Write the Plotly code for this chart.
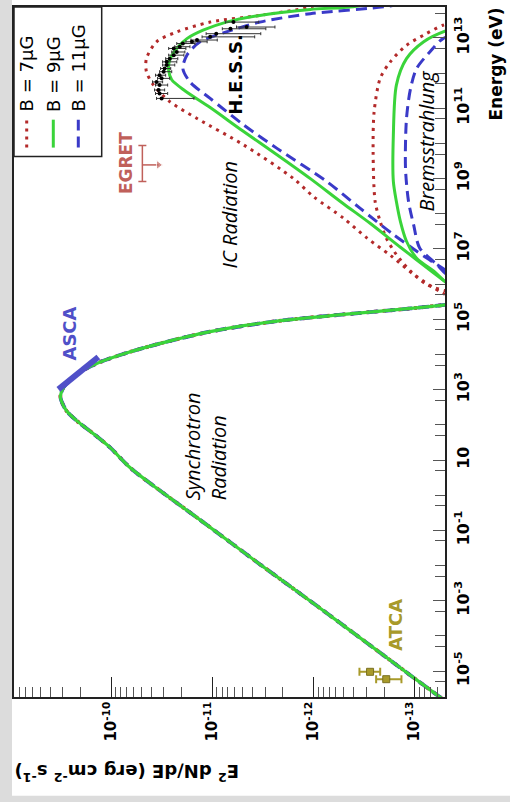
import numpy as np
import plotly.graph_objects as go

# ---------------- data (log10 of energy [eV] and of E^2 dN/dE [erg cm^-2 s^-1]) -------------
# synchrotron component (practically identical for the three B values)
sync_logE = [-6.05, -5.74, -4.48, -3.22, -1.96, -0.70, 0.14, 0.78, 1.36, 1.74, 2.12, 2.40,
             2.68, 2.82, 3.06, 3.44, 3.77, 4.05, 4.31, 4.65, 4.95, 5.14, 5.31, 5.42, 5.52]
sync_logF = [-13.40, -13.25, -12.66, -12.07, -11.47, -10.88, -10.48, -10.19, -9.99, -9.83, -9.66, -9.56,
             -9.51, -9.50, -9.53, -9.66, -9.88, -10.16, -10.48, -10.98, -11.64, -12.30, -12.96, -13.32, -13.55]

# inverse Compton, B = 7 uG
ic7_logE = [14.30, 13.88, 13.64, 13.45, 13.17, 12.89, 12.41, 12.04, 11.66, 11.19, 10.71, 9.96,
            9.01, 8.49, 7.87, 7.31, 6.82, 6.28, 5.74, 5.52]
ic7_logF = [-12.46, -11.97, -11.47, -10.98, -10.65, -10.45, -10.35, -10.35, -10.42, -10.58, -10.85, -11.31,
            -11.80, -12.00, -12.30, -12.53, -12.76, -12.99, -13.28, -13.45]
# inverse Compton, B = 9 uG
ic9_logE = [14.36, 13.91, 13.81, 13.64, 13.45, 13.22, 12.98, 12.70, 12.37, 12.08, 11.81, 11.50,
            11.02, 10.36, 9.68, 9.00, 8.30, 7.73, 7.05, 6.34, 6.03, 5.74]
ic9_logF = [-13.05, -12.44, -11.97, -11.47, -11.14, -10.91, -10.75, -10.65, -10.58, -10.57, -10.60, -10.73,
            -10.98, -11.30, -11.64, -11.97, -12.29, -12.56, -12.86, -13.18, -13.32, -13.45]
# inverse Compton, B = 11 uG
ic11_logE = [14.30, 13.91, 13.69, 13.45, 13.17, 12.89, 12.51, 12.13, 11.75, 11.28, 10.53, 9.86,
             8.92, 8.16, 7.41, 6.74, 6.37, 6.08]
ic11_logF = [-13.35, -12.76, -11.97, -11.47, -11.14, -10.88, -10.75, -10.71, -10.78, -10.98, -11.31, -11.64,
             -12.13, -12.46, -12.79, -13.12, -13.32, -13.45]

# bremsstrahlung, B = 7 uG
br7_logE = [13.45, 13.36, 13.08, 12.79, 12.32, 11.85, 10.90, 9.77, 8.35, 7.78, 7.31, 6.84, 6.37, 5.99, 5.80, 5.66]
br7_logF = [-13.45, -13.28, -13.09, -12.92, -12.76, -12.66, -12.60, -12.59, -12.61, -12.66, -12.72, -12.82,
            -12.96, -13.12, -13.32, -13.55]
# bremsstrahlung, B = 9 uG
br9_logE = [13.34, 13.19, 12.89, 12.41, 11.66, 10.24, 8.92, 8.35, 7.78, 7.22, 6.74, 6.37, 6.04, 5.80]
br9_logF = [-13.50, -13.30, -13.09, -12.92, -12.82, -12.79, -12.79, -12.82, -12.86, -12.92, -13.02, -13.19,
            -13.32, -13.55]
# bremsstrahlung, B = 11 uG
br11_logE = [13.17, 12.98, 12.60, 12.13, 11.56, 10.71, 9.30, 8.35, 7.69, 7.03, 6.56, 6.27, 6.03]
br11_logF = [-13.50, -13.28, -13.15, -13.02, -12.96, -12.92, -12.91, -12.94, -12.99, -13.05, -13.22, -13.32,
             -13.55]

# H.E.S.S. points with flux errors (in decades, towards higher / lower flux)
hess_logE = [11.28, 11.42, 11.52, 11.66, 11.75, 11.85, 11.94, 12.04, 12.13, 12.23, 12.32, 12.41,
             12.51, 12.60, 12.70, 12.75, 12.84, 12.89, 12.94, 13.03, 13.12, 13.26, 13.45, 13.31]
hess_logF = [-10.50, -10.48, -10.47, -10.48, -10.45, -10.50, -10.48, -10.52, -10.53, -10.55, -10.55, -10.58,
             -10.62, -10.65, -10.62, -10.68, -10.71, -10.80, -10.85, -10.98, -11.04, -11.18, -11.21, -11.34]
hess_dup = [0.05, 0.04, 0.04, 0.04, 0.04, 0.04, 0.04, 0.04, 0.04, 0.04, 0.04, 0.04,
            0.05, 0.05, 0.05, 0.05, 0.06, 0.06, 0.06, 0.08, 0.10, 0.08, 0.08, 0.10]
hess_ddown = [0.32, 0.08, 0.06, 0.08, 0.06, 0.08, 0.06, 0.08, 0.06, 0.08, 0.10, 0.08,
              0.10, 0.08, 0.12, 0.10, 0.12, 0.15, 0.20, 0.44, 0.44, 0.35, 0.25, 0.28]

# ATCA radio points
atca_logE = [-5.02, -5.23]
atca_logF = [-12.56, -12.72]
atca_dup = [0.105, 0.10]
atca_ddown = [0.10, 0.15]

# ASCA X-ray power law
asca_logE = [3.01, 3.93]
asca_logF = [-9.48, -9.875]

# EGRET upper limit
egret_logE = [9.39]
egret_logE_lo = [8.92]
egret_logE_hi = [9.94]
egret_logF = [-10.31]
egret_logF_tip = [-10.47]

# axis ticks
flux_ticks = [-10, -11, -12, -13]
energy_ticks = [-5, -3, -1, 1, 3, 5, 7, 9, 11, 13]

# ---------------- styles ----------------
RED = "#b32a2a"
GREEN = "#3ad43a"
BLUE = "#3a3ac8"
EGRET_C = "#c0605a"
ASCA_C = "#5050c8"
ATCA_C = "#a89a2a"


def p(v):
    return [10.0 ** a for a in v]


fig = go.Figure()

styles = {
    7: dict(color=RED, width=3, dash="3px,5px"),
    9: dict(color=GREEN, width=3, dash="solid"),
    11: dict(color=BLUE, width=3, dash="11px,6px"),
}


def curve(logE, logF, line):
    fig.add_trace(go.Scatter(x=p(logF), y=p(logE), mode="lines", line=dict(shape="spline", smoothing=0.8, **line),
                             showlegend=False, hoverinfo="skip"))


# synchrotron: red & blue beneath green
curve(sync_logE, sync_logF, dict(color=RED, width=3.8, dash="3px,5px"))
curve(sync_logE, sync_logF, dict(color=BLUE, width=3.8, dash="11px,6px"))

curve(ic7_logE, ic7_logF, styles[7])
curve(br7_logE, br7_logF, styles[7])
curve(ic11_logE, ic11_logF, styles[11])
curve(br11_logE, br11_logF, styles[11])
curve(ic9_logE, ic9_logF, styles[9])
curve(br9_logE, br9_logF, styles[9])
curve(sync_logE, sync_logF, dict(color=GREEN, width=3.2, dash="solid"))

# ASCA
fig.add_trace(go.Scatter(x=p(asca_logF), y=p(asca_logE), mode="lines",
                         line=dict(color=ASCA_C, width=6), showlegend=False, hoverinfo="skip"))

# ATCA
aF = np.array(p(atca_logF))
fig.add_trace(go.Scatter(
    x=aF, y=p(atca_logE), mode="markers",
    marker=dict(symbol="square", size=7, color=ATCA_C, line=dict(color="#7a7020", width=1)),
    error_x=dict(type="data", symmetric=False,
                 array=aF * (10 ** np.array(atca_dup) - 1),
                 arrayminus=aF * (1 - 10 ** -np.array(atca_ddown)),
                 color=ATCA_C, thickness=2, width=4),
    showlegend=False, hoverinfo="skip"))

# EGRET upper limit
eE = np.array(p(egret_logE))
fig.add_trace(go.Scatter(
    x=p(egret_logF), y=eE, mode="markers", marker=dict(size=1, color=EGRET_C),
    error_y=dict(type="data", symmetric=False,
                 array=np.array(p(egret_logE_hi)) - eE,
                 arrayminus=eE - np.array(p(egret_logE_lo)),
                 color=EGRET_C, thickness=1.5, width=4),
    showlegend=False, hoverinfo="skip"))
fig.add_trace(go.Scatter(
    x=p(egret_logF + egret_logF_tip), y=p(egret_logE + egret_logE), mode="lines+markers",
    line=dict(color=EGRET_C, width=1.5),
    marker=dict(symbol=["circle", "triangle-right"], size=[0, 8], color=EGRET_C),
    showlegend=False, hoverinfo="skip"))

# H.E.S.S.
hF = np.array(p(hess_logF))
fig.add_trace(go.Scatter(
    x=hF, y=p(hess_logE), mode="markers",
    marker=dict(symbol="circle", size=4, color="black"),
    error_x=dict(type="data", symmetric=False,
                 array=hF * (10 ** np.array(hess_dup) - 1),
                 arrayminus=hF * (1 - 10 ** -np.array(hess_ddown)),
                 color="#333333", thickness=1, width=1.5),
    showlegend=False, hoverinfo="skip"))

# ---------------- layout ----------------
L, R, T, B = 14, 445, 5, 697
W, H = 510, 802


def px(x, y):
    return (x - L) / (R - L), (B - y) / (B - T)


def sup(e):
    return "10" if e == 1 else "10<sup>%d</sup>" % e


flux_minor = []
for d in range(-14, -8):
    for m in range(2, 10):
        flux_minor.append(m * 10.0 ** d)
energy_minor = [5 * 10.0 ** d for d in range(-7, 15)] + [10.0 ** d for d in range(-6, 15, 2)]

fig.update_layout(
    width=W, height=H,
    margin=dict(l=L, r=W - R, t=T, b=H - B),
    paper_bgcolor="#dcdcdc", plot_bgcolor="white",
    showlegend=False,
    font=dict(family="DejaVu Sans", color="black"),
    xaxis=dict(type="log", range=[-9.0415, -13.3004], showgrid=False, zeroline=False,
               showline=True, mirror=True, linecolor="#222222", linewidth=1.5,
               ticks="inside", ticklen=20, tickwidth=1.2, tickcolor="#222222",
               tickvals=[10.0 ** e for e in flux_ticks], ticktext=["<b>" + sup(e) + "</b>" for e in flux_ticks],
               tickangle=-90, tickfont=dict(size=15, family="DejaVu Sans"), ticklabelstandoff=-3,
               minor=dict(tickvals=flux_minor, ticklen=10, tickwidth=1.2, tickcolor="#555555", ticks="inside")),
    yaxis=dict(type="log", range=[-5.736, 13.879], side="right", showgrid=False, zeroline=False,
               showline=True, mirror=True, linecolor="#222222", linewidth=1.5,
               ticks="inside", ticklen=12, tickwidth=1.2, tickcolor="#555555",
               tickvals=[10.0 ** e for e in energy_ticks], ticktext=["<b>" + sup(e) + "</b>" for e in energy_ticks],
               tickangle=-90, tickfont=dict(size=16, family="DejaVu Sans"), ticklabelstandoff=3,
               minor=dict(tickvals=energy_minor, ticklen=10, tickwidth=1.2, tickcolor="#555555", ticks="inside")),
)

shapes = []
# white page area (grey paper shows as the left and bottom strips)
x1, _ = px(12, 0)
xr, _ = px(W + 2, 0)
_, ytop = px(0, -2)
_, yb0 = px(0, 796)
shapes.append(dict(type="rect", xref="paper", yref="paper", x0=x1, x1=xr, y0=yb0, y1=ytop,
                   fillcolor="white", line=dict(width=0), layer="below"))
# legend box
lx0, ly0 = px(14, 155)
lx1, ly1 = px(101.7, 5)
shapes.append(dict(type="rect", xref="paper", yref="paper", x0=lx0, x1=lx1, y0=ly0, y1=ly1,
                   fillcolor="white", line=dict(color="#222222", width=1.5), layer="above"))
leg = [(26.7, RED, "3px,5px", "B = 7μG"), (53.3, GREEN, "solid", "B = 9μG"), (78.3, BLUE, "11px,6px", "B = 11μG")]
annotations = []
for xx, col, dash, txt in leg:
    a, b0 = px(xx, 146)
    _, b1 = px(xx, 118)
    shapes.append(dict(type="line", xref="paper", yref="paper", x0=a, x1=a, y0=b0, y1=b1,
                       line=dict(color=col, width=3, dash=dash), layer="above"))
    _, ty = px(xx, 112)
    annotations.append(dict(xref="paper", yref="paper", x=a, y=ty, text=txt, textangle=-90,
                            xanchor="center", yanchor="bottom", showarrow=False,
                            font=dict(size=18, family="DejaVu Sans", color="black")))


def label(x, y, text, size, color="black", family="DejaVu Sans", align="center", angle=-90,
          xanchor="center", yanchor="middle"):
    a, b = px(x, y)
    annotations.append(dict(xref="paper", yref="paper", x=a, y=b, text=text, textangle=angle,
                            xanchor=xanchor, yanchor=yanchor, showarrow=False, align=align,
                            font=dict(size=size, family=family, color=color)))


label(205, 445.5, "<i>Synchrotron</i><br><i>Radiation</i>", 20, family="Open Sans", align="left")
label(229, 214, "<i>IC Radiation</i>", 20, family="Open Sans")
label(427, 140, "<i>Bremsstrahlung</i>", 20, family="Open Sans")
label(236, 72, "<b>H.E.S.S.</b>", 18)
label(125.5, 162, "<b>EGRET</b>", 17, color=EGRET_C)
label(70, 332.5, "<b>ASCA</b>", 18, color=ASCA_C)
label(395.5, 625, "<b>ATCA</b>", 18, color=ATCA_C)
label(496, 4, "<b>Energy (eV)</b>", 17, yanchor="top")
label(127, 773, "<b>E<sup>2</sup> dN/dE (erg cm<sup>-2</sup> s<sup>-1</sup>)</b>", 18, angle=180)

fig.update_layout(shapes=shapes, annotations=annotations)
fig.write_html("out.html", config={"displayModeBar": False},
               post_script="document.body.style.margin='0';document.body.style.overflow='hidden';")
